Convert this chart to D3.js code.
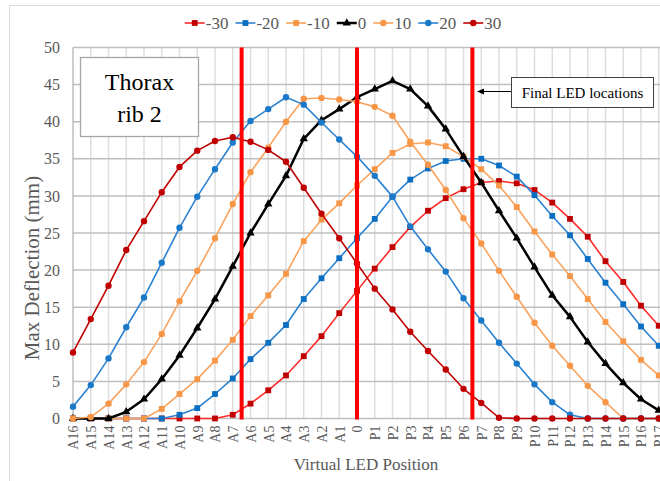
<!DOCTYPE html>
<html><head><meta charset="utf-8">
<script src="https://cdn.jsdelivr.net/npm/d3@7"></script>
<style>html,body{margin:0;padding:0;background:#fff;}svg{display:block;font-family:"Liberation Serif","Times New Roman",serif;}</style>
</head><body><svg id="c" width="660" height="481"></svg>
<script>
const categories = ["A16","A15","A14","A13","A12","A11","A10","A9","A8","A7","A6","A5","A4","A3","A2","A1","0",
  "P1","P2","P3","P4","P5","P6","P7","P8","P9","P10","P11","P12","P13","P14","P15","P16","P17"];
const seriesNames = ["-30","-20","-10","0","10","20","30"];
const valsM30 = [0,0,0,0,0,0,0,0,0,0.5,2.0,3.8,5.8,8.4,11.1,14.2,17.2,20.2,23.1,25.8,28.0,29.7,30.9,31.8,32.0,31.7,30.8,29.1,26.9,24.5,21.2,18.4,15.2,12.5];
const valsM20 = [0,0,0,0,0,0,0.5,1.4,3.3,5.4,8.0,10.2,12.6,16.1,18.9,21.6,24.3,26.9,29.9,32.2,33.7,34.7,35.0,35.0,34.1,32.6,30.1,27.3,24.7,21.5,18.3,15.4,12.4,9.8];
const valsM10 = [0,0,0,0,0,1.3,3.3,5.3,7.8,10.6,13.8,16.6,19.5,23.9,26.8,29.0,31.4,33.6,35.8,37.0,37.2,36.7,35.3,33.6,31.4,28.5,25.2,22.1,19.2,16.1,13.0,10.4,7.9,5.8];
const vals0   = [0,0,0,0.9,2.6,5.3,8.5,12.2,16.1,20.5,25.0,28.9,32.7,37.7,40.2,41.7,43.3,44.4,45.5,44.4,42.1,39.0,35.3,31.8,28.0,24.3,20.4,16.6,13.7,10.3,7.4,4.8,2.6,1.1];
const vals10  = [0,0.2,2.0,4.6,7.6,11.4,15.8,19.9,24.3,28.9,33.2,36.5,40.0,43.1,43.2,43.0,42.7,42.0,40.8,37.3,34.2,30.8,27.0,23.6,19.9,16.4,12.9,9.8,7.1,4.4,2.2,0,0,0];
const vals20  = [1.6,4.5,8.1,12.3,16.3,21.0,25.7,29.9,33.6,37.2,40.1,41.7,43.3,42.3,39.9,37.6,35.3,32.7,29.9,25.9,22.8,19.8,16.2,13.2,10.2,7.4,4.6,2.2,0.5,0,0,0,0,0];
const vals30  = [8.9,13.4,17.9,22.7,26.6,30.5,33.9,36.1,37.4,37.9,37.3,36.2,34.6,31.1,27.6,24.3,20.9,17.5,14.7,11.7,9.1,6.6,4.0,2.1,0.1,0,0,0,0,0,0,0,0,0];
const yTicks = [0,5,10,15,20,25,30,35,40,45,50];
const ledPositions = [9.5, 16, 22.5]; // category index of final LED lines
const boxLabel = ["Thorax","rib 2"];
const annotationText = "Final LED locations";
const xTitle = "Virtual LED Position";
const yTitle = "Max Deflection (mm)";

const seriesVals = [valsM30, valsM20, valsM10, vals0, vals10, vals20, vals30];
const lineColors = ["#FF2A2A","#2B82D2","#F9A35E","#000000","#F9A35E","#2B82D2","#C00000"];
const markColors = ["#C00000","#0A6FC2","#F79646","#000000","#F79646","#1A78C8","#C00000"];
const shapes = ["square","square","square","triangle","circle","circle","circle"];

const svg = d3.select("#c");
const W = 660, H = 481;
const pLeft = 73, pStep = 17.75, pTop = 47.5, pBottom = 418.5;

const x = d3.scalePoint().domain(categories).range([pLeft, pLeft + pStep*(categories.length-1)]);
const xi = d3.scaleLinear().domain([0, categories.length-1]).range([pLeft, pLeft + pStep*(categories.length-1)]);
const y = d3.scaleLinear().domain([0,50]).range([pBottom, pTop]);

// outer chart border
svg.append("rect").attr("x",9.5).attr("y",5.5).attr("width",700).attr("height",520)
  .attr("fill","none").attr("stroke","#D9D9D9").attr("stroke-width",1);

// vertical gridlines
svg.append("g").selectAll("line").data(categories).join("line")
  .attr("x1",d=>x(d)).attr("x2",d=>x(d)).attr("y1",pTop).attr("y2",pBottom)
  .attr("stroke","#DEDEDE").attr("stroke-width",1.5);
// horizontal gridlines
svg.append("g").selectAll("line").data(yTicks).join("line")
  .attr("x1",pLeft).attr("x2",W).attr("y1",d=>y(d)).attr("y2",d=>y(d))
  .attr("stroke","#BFBFBF").attr("stroke-width",1.5);
// left axis line
svg.append("line").attr("x1",pLeft).attr("x2",pLeft).attr("y1",pTop).attr("y2",pBottom)
  .attr("stroke","#BFBFBF").attr("stroke-width",1.2);

// y axis labels
const yAxis = d3.axisLeft(y).tickValues(yTicks).tickSize(0).tickPadding(13);
const gy = svg.append("g").attr("transform",`translate(${pLeft},0)`).call(yAxis);
gy.select(".domain").remove();
gy.selectAll("text").attr("font-size",16).attr("fill","#595959").attr("font-family","Liberation Serif");

// x axis labels
const xAxis = d3.axisBottom(x).tickSize(0).tickPadding(0);
const gx = svg.append("g").attr("transform",`translate(0,${pBottom})`).call(xAxis);
gx.select(".domain").remove();
gx.selectAll("text").attr("font-size",14).attr("fill","#595959").attr("font-family","Liberation Serif")
  .attr("text-anchor","end").attr("dy","0.35em")
  .attr("transform","translate(0,7) rotate(-90)").attr("x",0).attr("y",0);

// titles
svg.append("text").attr("x",366).attr("y",470).attr("text-anchor","middle")
  .attr("font-size",17).attr("fill","#595959").text(xTitle);
svg.append("text").attr("transform","translate(39,268) rotate(-90)").attr("text-anchor","middle")
  .attr("font-size",21).attr("fill","#595959").text(yTitle);

// series
const line = d3.line().x((d,i)=>x(categories[i])).y(d=>y(d));
const sym = {square: d3.symbolSquare, circle: d3.symbolCircle, triangle: d3.symbolTriangle};
const symSize = {square: 34, circle: 32, triangle: 30};
seriesVals.forEach((vals, si) => {
  const g = svg.append("g");
  g.append("path").attr("d", line(vals)).attr("fill","none")
    .attr("stroke", lineColors[si]).attr("stroke-width", si===3 ? 2.5 : 1.6).attr("stroke-linejoin","round");
  g.selectAll("path.m").data(vals).join("path").attr("class","m")
    .attr("transform",(d,i)=>`translate(${x(categories[i])},${y(d)})`)
    .attr("d", d3.symbol().type(sym[shapes[si]]).size(symSize[shapes[si]]))
    .attr("fill", markColors[si]);
});

// LED lines
svg.append("g").selectAll("line").data(ledPositions).join("line")
  .attr("x1",d=>xi(d)).attr("x2",d=>xi(d)).attr("y1",pTop).attr("y2",pBottom+1)
  .attr("stroke","#FF0000").attr("stroke-width",4);

// Thorax box
svg.append("rect").attr("x",80.5).attr("y",57.5).attr("width",118).attr("height",79)
  .attr("fill","#fff").attr("stroke","#A6A6A6").attr("stroke-width",1.3);
svg.append("text").attr("x",139.5).attr("y",90).attr("text-anchor","middle").attr("font-size",24).attr("fill","#000").text(boxLabel[0]);
svg.append("text").attr("x",139.5).attr("y",122).attr("text-anchor","middle").attr("font-size",24).attr("fill","#000").text(boxLabel[1]);

// annotation box and arrow
svg.append("rect").attr("x",511.5).attr("y",77.5).attr("width",142).attr("height",30)
  .attr("fill","#fff").attr("stroke","#404040").attr("stroke-width",1);
svg.append("text").attr("x",582.5).attr("y",98).attr("text-anchor","middle").attr("font-size",15).attr("fill","#000").text(annotationText);
svg.append("line").attr("x1",511).attr("x2",482).attr("y1",91.5).attr("y2",91.5).attr("stroke","#000").attr("stroke-width",1);
svg.append("path").attr("d","M477,91.5 L484,88.5 L484,94.5 Z").attr("fill","#000");

// legend
const lg = svg.append("g");
let cx = 0;
seriesNames.forEach((n, si) => {
  const it = lg.append("g").attr("transform",`translate(${cx},0)`);
  it.append("line").attr("x1",0).attr("x2",20).attr("y1",0).attr("y2",0).attr("stroke",lineColors[si]).attr("stroke-width", si===3?2.5:1.6);
  it.append("path").attr("transform","translate(10,0)").attr("d", d3.symbol().type(sym[shapes[si]]).size(symSize[shapes[si]])).attr("fill",markColors[si]);
  const t = it.append("text").attr("x",21).attr("y",0).attr("dy","0.35em").attr("font-size",17).attr("fill","#595959").text(n);
  cx += 21 + t.node().getComputedTextLength() + 7;
});
const lw = cx - 7;
lg.attr("transform",`translate(${341 - lw/2 + 2},23)`);
</script></body></html>
